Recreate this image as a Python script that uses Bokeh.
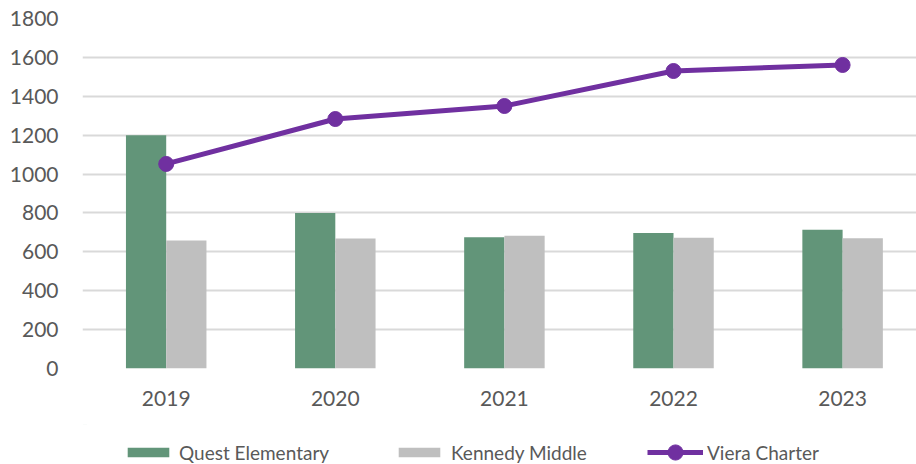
from bokeh.plotting import figure
from bokeh.layouts import column
from bokeh.models import Range1d, FixedTicker, Legend, LegendItem, ColumnDataSource
from bokeh.transform import dodge
from bokeh.embed import file_html
from bokeh.resources import INLINE

# ---- data ----
years = ["2019", "2020", "2021", "2022", "2023"]
quest_elementary = [1200, 800, 675, 697, 713]
kennedy_middle = [658, 668, 683, 673, 670]
viera_charter = [1052, 1283, 1350, 1530, 1561]
y_tick_values = [0, 200, 400, 600, 800, 1000, 1200, 1400, 1600, 1800]

# ---- style ----
GREEN = "#629579"
GRAY = "#BFBFBF"
PURPLE = "#7030A0"
TEXT = "#595959"
GRID = "#D9D9D9"
FONT = "Lato"
BAR_W = 0.238

idx = list(range(len(years)))
src = ColumnDataSource(dict(x=idx, quest=quest_elementary, kennedy=kennedy_middle, viera=viera_charter))

p = figure(width=916, height=424,
           x_range=Range1d(-0.495, 4.437), y_range=Range1d(0, 1800),
           output_backend="svg", toolbar_location=None,
           min_border_left=82, min_border_right=0, min_border_top=18, min_border_bottom=56)
p.outline_line_color = None

r_q = p.vbar(x=dodge("x", -BAR_W / 2, range=p.x_range), top="quest", width=BAR_W, bottom=0,
             source=src, fill_color=GREEN, line_color=None)
r_k = p.vbar(x=dodge("x", BAR_W / 2, range=p.x_range), top="kennedy", width=BAR_W, bottom=0,
             source=src, fill_color=GRAY, line_color=None)
r_l = p.line(x="x", y="viera", source=src, line_color=PURPLE, line_width=5)
r_s = p.scatter(x="x", y="viera", source=src, size=15, fill_color=PURPLE, line_color=PURPLE)

# axes
p.yaxis.ticker = FixedTicker(ticks=y_tick_values)
p.xaxis.ticker = FixedTicker(ticks=idx)
p.xaxis.major_label_overrides = {i: y for i, y in zip(idx, years)}
for ax in (p.xaxis[0], p.yaxis[0]):
    ax.axis_line_color = None
    ax.major_tick_line_color = None
    ax.minor_tick_line_color = None
    ax.major_tick_out = 0
    ax.major_tick_in = 0
    ax.major_label_text_font = FONT
    ax.major_label_text_font_size = "21px"
    ax.major_label_text_color = TEXT
p.yaxis.major_label_standoff = 24
p.xaxis.major_label_standoff = 22

p.xgrid.grid_line_color = None
p.ygrid.ticker = FixedTicker(ticks=y_tick_values)
p.ygrid.grid_line_color = GRID
p.ygrid.grid_line_width = 2

# ---- legend strip (separate figure so the legend is not clipped) ----
# its ranges lie far away from the data, so the proxy glyphs themselves stay hidden
lg = figure(width=916, height=40, x_range=Range1d(0, 916), y_range=Range1d(-5000, -4960),
            output_backend="svg", toolbar_location=None,
            min_border_left=82, min_border_right=0, min_border_top=0, min_border_bottom=0)
lg.axis.visible = False
lg.grid.visible = False
lg.outline_line_color = None
d_q = lg.vbar(x="x", top="quest", width=0.1, bottom=0, source=src, fill_color=GREEN, line_color=None)
d_k = lg.vbar(x="x", top="kennedy", width=0.1, bottom=0, source=src, fill_color=GRAY, line_color=None)
d_l = lg.line(x="x", y="viera", source=src, line_color=PURPLE, line_width=5)
d_s = lg.scatter(x="x", y="viera", source=src, size=15, fill_color=PURPLE, line_color=PURPLE)

def make_legend(label, renderers, x0, gw, gh, standoff, h):
    return Legend(items=[LegendItem(label=label, renderers=renderers)],
                  location=(x0, 12 - h / 2), glyph_width=gw, glyph_height=gh,
                  label_standoff=standoff, padding=0, margin=0, spacing=0,
                  border_line_color=None, background_fill_alpha=0,
                  label_text_font=FONT, label_text_font_size="19px",
                  label_text_color=TEXT)

lg.add_layout(make_legend("Quest Elementary", [d_q], 40, 52, 12, 5, 23))
lg.add_layout(make_legend("Kennedy Middle", [d_k], 311, 52, 12, 6, 23))
lg.add_layout(make_legend("Viera Charter", [d_l, d_s], 565, 56, 38, 4, 38))

layout = column(p, lg, spacing=0)
open("out.html", "w").write(file_html(layout, INLINE))
